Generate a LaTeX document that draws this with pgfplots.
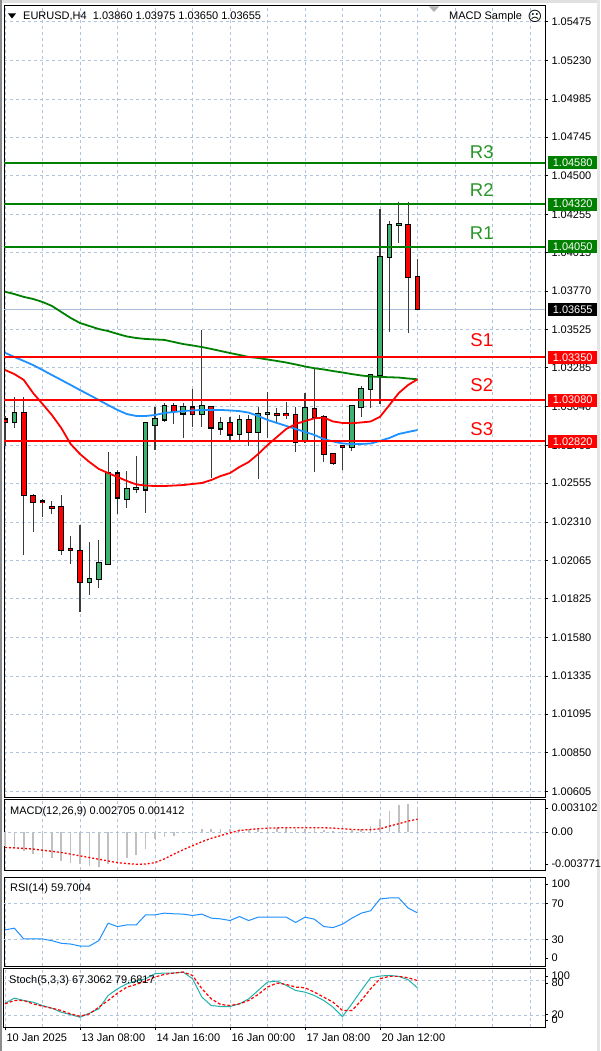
\documentclass[border=0pt]{standalone}
\usepackage{fontspec}
\setmainfont{Liberation Sans}
\newfontfamily\dejavu{DejaVu Sans}
\usepackage{pgfplots}
\usepackage{pgfplotstable}
\pgfplotsset{compat=1.18}

\definecolor{mtgreen}{RGB}{0,128,0}
\definecolor{bodygreen}{RGB}{60,179,113}
\definecolor{mablue}{RGB}{30,144,255}
\definecolor{gridc}{RGB}{176,196,222}
\definecolor{pricec}{RGB}{170,190,220}
\definecolor{wick}{RGB}{60,60,60}
\definecolor{stochc}{RGB}{32,178,170}
\definecolor{lbgreen}{RGB}{40,150,40}
\definecolor{histc}{RGB}{192,192,192}

\newcommand\mtf{\fontsize{11pt}{13pt}\selectfont}
\newcommand\bigf{\fontsize{18.5pt}{20pt}\selectfont}

% candles: i open high low close
\pgfplotstableread{
i o h l c
1 1.02944 1.03102 1.02908 1.03001
9 1.01932 1.02185 1.01848 1.01947
10 1.01947 1.02196 1.01890 1.02052
11 1.02044 1.02754 1.02040 1.02617
13 1.02455 1.02634 1.02396 1.02518
14 1.02521 1.02727 1.02491 1.02524
15 1.02516 1.02944 1.02368 1.02934
16 1.02923 1.03039 1.02765 1.02961
17 1.02959 1.03064 1.02944 1.03043
19 1.02997 1.03064 1.02839 1.03035
21 1.02991 1.03524 1.02912 1.03043
23 1.02902 1.02972 1.02860 1.02934
25 1.02870 1.02986 1.02824 1.02955
27 1.02881 1.03035 1.02581 1.02991
28 1.02996 1.03133 1.02839 1.02999
32 1.02824 1.03123 1.02807 1.03030
37 1.02786 1.03045 1.02760 1.03043
38 1.03039 1.03170 1.02972 1.03149
39 1.03149 1.03245 1.03029 1.03239
40 1.03239 1.04287 1.03056 1.03987
41 1.03987 1.04213 1.03513 1.04188
42 1.04191 1.04332 1.04076 1.04194
}\bull

\pgfplotstableread{
i o h l c
0 1.02959 1.02980 1.02792 1.02946
2 1.03001 1.03098 1.02101 1.02480
3 1.02474 1.02491 1.02248 1.02434
4 1.02439 1.02459 1.02343 1.02436
5 1.02404 1.02444 1.02360 1.02401
6 1.02406 1.02480 1.02101 1.02132
7 1.02139 1.02221 1.02048 1.02135
8 1.02126 1.02290 1.01742 1.01932
12 1.02617 1.02638 1.02360 1.02466
18 1.03043 1.03064 1.02929 1.03013
20 1.03035 1.03149 1.02912 1.02992
22 1.03035 1.03043 1.02586 1.02908
24 1.02934 1.02975 1.02828 1.02864
26 1.02955 1.02986 1.02790 1.02881
29 1.02992 1.03029 1.02944 1.02990
30 1.02991 1.03070 1.02959 1.02989
31 1.02986 1.03039 1.02754 1.02817
33 1.03022 1.03282 1.02624 1.02972
34 1.02975 1.02986 1.02691 1.02739
35 1.02739 1.02748 1.02674 1.02684
36 1.02790 1.02796 1.02638 1.02787
43 1.04188 1.04332 1.03507 1.03857
44 1.03860 1.03975 1.03650 1.03655
}\bear

% moving averages: green, blue, red
\pgfplotstableread{
i g b r
0 1.03766 1.03380 1.03271
1 1.03751 1.03353 1.03245
2 1.03733 1.03328 1.03208
3 1.03720 1.03302 1.03125
4 1.03701 1.03271 1.03056
5 1.03676 1.03239 1.02986
6 1.03638 1.03208 1.02904
7 1.03600 1.03176 1.02803
8 1.03568 1.03144 1.02739
9 1.03549 1.03113 1.02689
10 1.03530 1.03081 1.02645
11 1.03517 1.03049 1.02619
12 1.03499 1.03018 1.02594
13 1.03483 1.02992 1.02569
14 1.03473 1.02980 1.02547
15 1.03467 1.02980 1.02540
16 1.03464 1.02986 1.02537
17 1.03461 1.02999 1.02537
18 1.03448 1.03005 1.02540
19 1.03435 1.03011 1.02543
20 1.03426 1.03015 1.02550
21 1.03416 1.03018 1.02556
22 1.03404 1.03018 1.02575
23 1.03391 1.03018 1.02600
24 1.03378 1.03015 1.02619
25 1.03366 1.03011 1.02657
26 1.03353 1.03001 1.02689
27 1.03347 1.02980 1.02739
28 1.03337 1.02955 1.02796
29 1.03328 1.02936 1.02847
30 1.03318 1.02917 1.02898
31 1.03306 1.02898 1.02929
32 1.03293 1.02879 1.02948
33 1.03282 1.02860 1.02965
34 1.03274 1.02834 1.02970
35 1.03264 1.02819 1.02945
36 1.03255 1.02806 1.02936
37 1.03245 1.02803 1.02934
38 1.03236 1.02803 1.02939
39 1.03230 1.02806 1.02945
40 1.03227 1.02822 1.02975
41 1.03225 1.02841 1.03049
42 1.03223 1.02866 1.03125
43 1.03217 1.02879 1.03176
44 1.03212 1.02891 1.03212
}\ma

% oscillators
\pgfplotstableread{
i macd sig rsi k d
0 -0.00147 -0.00165 40.6 41.2 40.0
1 -0.00158 -0.00170 42.5 49.8 45.8
2 -0.00202 -0.00176 30.4 45.8 45.8
3 -0.00238 -0.00183 30.4 42.9 40.0
4 -0.00256 -0.00195 30.4 37.2 36.0
5 -0.00275 -0.00207 28.5 32.6 32.6
6 -0.00312 -0.00220 25.5 25.7 28.6
7 -0.00330 -0.00238 24.7 21.7 22.9
8 -0.00350 -0.00257 22.4 17.2 18.9
9 -0.00368 -0.00275 22.4 24.0 22.9
10 -0.003771 -0.00293 28.5 31.5 34.3
11 -0.00345 -0.00312 48.1 54.3 45.8
12 -0.00330 -0.00330 44.3 65.8 58.3
13 -0.00282 -0.00340 46.2 74.3 68.6
14 -0.00246 -0.00348 46.2 78.9 73.2
15 -0.00184 -0.00345 57.5 82.9 78.9
16 -0.00074 -0.00330 57.5 91.5 85.8
17 -0.00055 -0.00290 59.4 92.6 90.3
18 -0.00037 -0.00238 58.7 92.6 92.6
19 -0.00009 -0.00190 58.3 94.3 94.3
20 0.00007 -0.00147 56.8 82.9 88.6
21 0.00030 -0.00103 58.3 51.5 65.8
22 0.00037 -0.00066 53.8 37.2 48.6
23 0.00037 -0.00037 53.0 35.5 38.9
24 0.00030 -0.00007 51.1 35.5 37.2
25 0.00035 0.00018 55.6 40.0 40.0
26 0.00040 0.00029 51.1 48.6 45.8
27 0.00045 0.00037 54.9 62.9 56.0
28 0.00050 0.00044 54.9 77.2 68.6
29 0.00050 0.00047 54.9 78.9 75.5
30 0.00045 0.00048 54.9 71.5 73.2
31 0.00040 0.00048 48.9 62.9 68.6
32 0.00040 0.00048 54.9 60.0 67.5
33 0.00035 0.00048 52.6 54.3 60.0
34 0.00020 0.00048 44.3 45.8 51.5
35 0.00010 0.00045 43.2 34.3 42.9
36 0.00005 0.00037 47.0 18.3 28.6
37 0.00020 0.00030 53.8 40.0 28.6
38 0.00040 0.00026 59.4 62.9 45.8
39 0.00070 0.00028 62.1 84.6 65.8
40 0.00147 0.00037 75.3 87.5 82.9
41 0.00227 0.00066 76.5 88.6 86.9
42 0.00290 0.00092 76.5 86.9 86.9
43 0.003102 0.00120 65.1 81.2 84.6
44 0.002705 0.001412 59.7004 67.3062 79.6817
}\osc

\pgfplotsset{
  mtaxis/.style={
    scale only axis, width=541pt, anchor=north west,
    xmin=-0.107, xmax=57.6,
    axis line style={black, line width=1pt},
    xtick={0,8,...,56}, minor xtick={4,12,...,52},
    xmajorgrids, xminorgrids,
    grid style={gridc, dash pattern=on 3pt off 3pt, line width=0.8pt},
    minor grid style={gridc, dash pattern=on 3pt off 3pt, line width=0.8pt},
    xticklabels={}, xtick style={draw=none}, minor tick length=0pt,
    ytick pos=right, yticklabel pos=right, tick align=outside,
    major tick length=3pt, ytick style={draw=black, line width=0.8pt},
    tick label style={font=\mtf, text=black},
    yticklabel style={anchor=west},
    scaled y ticks=false, scaled x ticks=false,
    /pgf/number format/assume math mode=true,
    clip mode=individual,
  },
  wicks/.style={draw=none, mark=none, forget plot,
    error bars/.cd, y dir=both, y explicit, error mark=none,
    error bar style={draw=wick, line width=1.2pt, solid}},
  bodyline/.style={draw=none, mark=none, forget plot,
    error bars/.cd, y dir=both, y explicit, error mark=none,
    error bar style={draw=#1, line width=5.6pt, solid}},
  bodyfill/.style={draw=none, mark=none, forget plot,
    error bars/.cd, y dir=both, y explicit, error mark=none,
    error bar style={draw=#1, line width=3.6pt, solid}},
}

\begin{document}
\begin{tikzpicture}[x=1pt,y=1pt]
\useasboundingbox (0,0) rectangle (600,-1051);
\fill[white] (0,0) rectangle (600,-1051);
\fill[black!12] (0,0) rectangle (600,-3);
\fill[black!45] (0,0) rectangle (2,-1051);
\fill[black!10] (597,0) rectangle (600,-1051);

% ================= main price panel =================
\begin{axis}[mtaxis, at={(4pt,-6pt)}, height=791pt,
  ymin=1.0057, ymax=1.05573, ymajorgrids,
  ytick={1.00605,1.00850,1.01095,1.01335,1.01580,1.01825,1.02065,1.02310,1.02555,1.02795,1.03040,1.03285,1.03525,1.03770,1.04015,1.04255,1.04500,1.04745,1.04985,1.05230,1.05475},
  yticklabels={1.00605,1.00850,1.01095,1.01335,1.01580,1.01825,1.02065,1.02310,1.02555,1.02795,1.03040,1.03285,1.03525,1.03770,1.04015,1.04255,1.04500,1.04745,1.04985,1.05230,1.05475},
]
% price line
\addplot[pricec, line width=0.8pt, mark=none, forget plot] coordinates {(-1,1.03655) (60,1.03655)};
% wicks
\addplot[wicks] table[x=i, y expr={(\thisrow{h}+\thisrow{l})/2}, y error expr={(\thisrow{h}-\thisrow{l})/2}] {\bull};
\addplot[wicks] table[x=i, y expr={(\thisrow{h}+\thisrow{l})/2}, y error expr={(\thisrow{h}-\thisrow{l})/2}] {\bear};
% bodies
\addplot[bodyline=black] table[x=i, y expr={(\thisrow{o}+\thisrow{c})/2}, y error expr={abs(\thisrow{c}-\thisrow{o})/2+0.00007}] {\bull};
\addplot[bodyline=black] table[x=i, y expr={(\thisrow{o}+\thisrow{c})/2}, y error expr={abs(\thisrow{c}-\thisrow{o})/2+0.00007}] {\bear};
\addplot[bodyfill=bodygreen] table[x=i, y expr={(\thisrow{o}+\thisrow{c})/2}, y error expr={abs(\thisrow{c}-\thisrow{o})/2}] {\bull};
\addplot[bodyfill=red] table[x=i, y expr={(\thisrow{o}+\thisrow{c})/2}, y error expr={abs(\thisrow{c}-\thisrow{o})/2}] {\bear};
% moving averages
\addplot[mtgreen, line width=1.8pt, mark=none] table[x=i, y=g] {\ma};
\addplot[mablue, line width=1.8pt, mark=none] table[x=i, y=b] {\ma};
\addplot[red, line width=1.8pt, mark=none] table[x=i, y=r] {\ma};
% pivot levels
\addplot[mtgreen, line width=2pt, mark=none] coordinates {(-1,1.04580) (60,1.04580)};
\addplot[mtgreen, line width=2pt, mark=none] coordinates {(-1,1.04320) (60,1.04320)};
\addplot[mtgreen, line width=2pt, mark=none] coordinates {(-1,1.04050) (60,1.04050)};
\addplot[red, line width=2pt, mark=none] coordinates {(-1,1.03350) (60,1.03350)};
\addplot[red, line width=2pt, mark=none] coordinates {(-1,1.03080) (60,1.03080)};
\addplot[red, line width=2pt, mark=none] coordinates {(-1,1.02820) (60,1.02820)};
\node[text=lbgreen, font=\bigf, inner sep=0pt] at (axis cs:50.85,1.04650) {R3};
\node[text=lbgreen, font=\bigf, inner sep=0pt] at (axis cs:50.85,1.04409) {R2};
\node[text=lbgreen, font=\bigf, inner sep=0pt] at (axis cs:50.85,1.04137) {R1};
\node[text=red, font=\bigf, inner sep=0pt] at (axis cs:50.85,1.03461) {S1};
\node[text=red, font=\bigf, inner sep=0pt] at (axis cs:50.85,1.03176) {S2};
\node[text=red, font=\bigf, inner sep=0pt] at (axis cs:50.85,1.02898) {S3};
\coordinate (bR3) at (axis cs:57.6,1.04580);
\coordinate (bR2) at (axis cs:57.6,1.04320);
\coordinate (bR1) at (axis cs:57.6,1.04050);
\coordinate (bS1) at (axis cs:57.6,1.03350);
\coordinate (bS2) at (axis cs:57.6,1.03080);
\coordinate (bS3) at (axis cs:57.6,1.02820);
\coordinate (bP) at (axis cs:57.6,1.03655);
\end{axis}

\foreach \c/\t/\col in {bR3/1.04580/mtgreen, bR2/1.04320/mtgreen, bR1/1.04050/mtgreen, bS1/1.03350/red, bS2/1.03080/red, bS3/1.02820/red, bP/1.03655/black}
  \node[fill=\col, text=white, font=\mtf, minimum width=49pt, minimum height=13pt, inner sep=0pt, anchor=west] at ([xshift=3pt]\c) {\t};

% header
\fill[black] (8,-13.5) -- (16,-13.5) -- (12,-18.5) -- cycle;
\node[anchor=west, inner sep=0pt, font=\mtf] at (23,-16.5) {EURUSD,H4\ \ 1.03860 1.03975 1.03650 1.03655};
\fill[black!30] (429,-6.5) -- (439,-6.5) -- (434,-12) -- cycle;
\node[anchor=west, inner sep=0pt, font=\mtf] at (449,-16.5) {MACD Sample};
\node[inner sep=0pt, font=\dejavu\fontsize{14pt}{14pt}\selectfont] at (535,-16.5) {☹};

% ================= MACD =================
\begin{axis}[mtaxis, at={(4pt,-799pt)}, height=71pt,
  ymin=-0.0041, ymax=0.0036,
  ytick={-0.00345,0,0.002625}, yticklabels={-0.003771,0.00,0.003102}]
\addplot[gridc, dash pattern=on 3pt off 3pt, line width=0.8pt, mark=none] coordinates {(-1,0) (60,0)};
\addplot[ycomb, draw=histc, line width=1.6pt, mark=none] table[x=i, y=macd] {\osc};
\addplot[red, line width=1.3pt, dash pattern=on 2pt off 2pt, mark=none] table[x=i, y=sig] {\osc};
\node[anchor=west, inner sep=0pt, font=\mtf, xshift=6pt, yshift=-13pt] at (rel axis cs:0,1) {MACD(12,26,9) 0.002705 0.001412};
\end{axis}

% ================= RSI =================
\begin{axis}[mtaxis, at={(4pt,-877pt)}, height=89pt,
  ymin=0, ymax=100,
  ytick={9,30,70,92}, yticklabels={0,30,70,100}]
\addplot[gridc, dash pattern=on 3pt off 3pt, line width=0.8pt, mark=none] coordinates {(-1,30) (60,30)};
\addplot[gridc, dash pattern=on 3pt off 3pt, line width=0.8pt, mark=none] coordinates {(-1,70) (60,70)};
\addplot[mablue, line width=1pt, mark=none] table[x=i, y=rsi] {\osc};
\node[anchor=west, inner sep=0pt, font=\mtf, xshift=6pt, yshift=-12pt] at (rel axis cs:0,1) {RSI(14) 59.7004};
\end{axis}

% ================= Stochastic =================
\begin{axis}[mtaxis, at={(4pt,-968.7pt)}, height=58.6pt,
  ymin=0, ymax=100,
  ytick={12.5,21.8,75.6,87.5}, yticklabels={0,20,80,100},
  xtick={0,8,16,24,32,40}, minor xtick={4,12,20,28,36,44,48,52,56},
  xticklabels={10 Jan 2025,13 Jan 08:00,14 Jan 16:00,16 Jan 00:00,17 Jan 08:00,20 Jan 12:00},
  xtick pos=bottom, xtick style={draw=black, line width=0.8pt},
  xticklabel style={anchor=north west, xshift=-2pt}]
\addplot[gridc, dash pattern=on 3pt off 3pt, line width=0.8pt, mark=none] coordinates {(-1,20) (60,20)};
\addplot[gridc, dash pattern=on 3pt off 3pt, line width=0.8pt, mark=none] coordinates {(-1,80) (60,80)};
\addplot[stochc, line width=1pt, mark=none] table[x=i, y=k] {\osc};
\addplot[red, line width=1.2pt, dash pattern=on 3pt off 2pt, mark=none] table[x=i, y=d] {\osc};
\node[anchor=west, inner sep=0pt, font=\mtf, xshift=5pt, yshift=-12.3pt] at (rel axis cs:0,1) {Stoch(5,3,3) 67.3062 79.6817};
\end{axis}
\end{tikzpicture}
\end{document}
